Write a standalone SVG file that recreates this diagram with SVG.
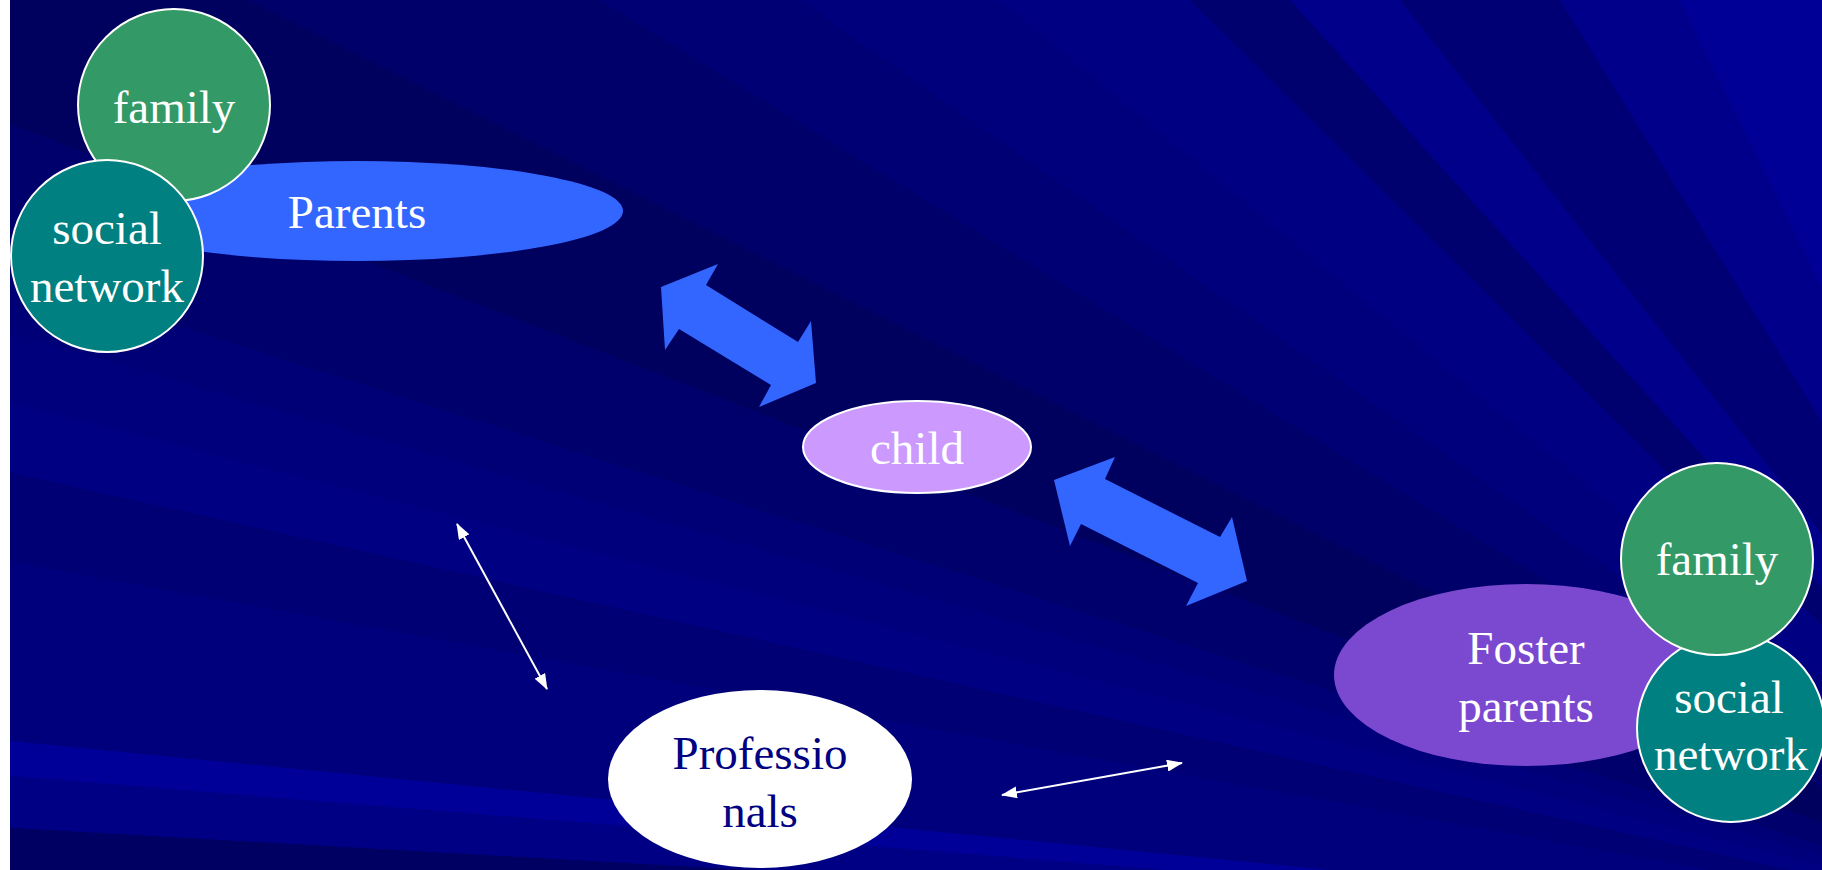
<svg xmlns="http://www.w3.org/2000/svg" width="1822" height="870" viewBox="0 0 1822 870">
<style>
.lbl{font-family:"Liberation Serif","Times New Roman",serif;font-size:47px;fill:#ffffff;text-anchor:middle}
.dark{fill:#000080}
.ring{stroke:#ffffff;stroke-width:2}
.thin{stroke:#ffffff;stroke-width:2;fill:none}
.fat{fill:#3366ff}
</style>
<defs>
<marker id="ah" viewBox="0 0 16 12" refX="15" refY="6" markerWidth="16" markerHeight="12" markerUnits="userSpaceOnUse" orient="auto-start-reverse">
<path d="M0,0 L16,6 L0,12 Z" fill="#ffffff"/>
</marker>
</defs>
<g id="background">
<rect x="0" y="0" width="1822" height="870" fill="#00008c"/>
<polygon points="2150,950 0,870 0,827" fill="#000062"/>
<polygon points="2150,950 0,827 0,775" fill="#000084"/>
<polygon points="2150,950 0,775 0,740" fill="#000098"/>
<polygon points="2150,950 0,740 0,560" fill="#00007c"/>
<polygon points="2150,950 0,560 0,470" fill="#000074"/>
<polygon points="2150,950 0,470 0,400" fill="#000082"/>
<polygon points="2150,950 0,400 0,330" fill="#00007c"/>
<polygon points="2150,950 0,330 0,270" fill="#000076"/>
<polygon points="2150,950 0,270 0,120" fill="#00006c"/>
<polygon points="2150,950 0,120 0,0 250,0" fill="#00005e"/>
<polygon points="2150,950 250,0 600,0" fill="#00006a"/>
<polygon points="2150,950 600,0 800,0" fill="#000074"/>
<polygon points="2150,950 800,0 1000,0" fill="#00007c"/>
<polygon points="2150,950 1000,0 1190,0" fill="#000082"/>
<polygon points="2150,950 1190,0 1290,0" fill="#00006e"/>
<polygon points="2150,950 1290,0 1400,0" fill="#00008a"/>
<polygon points="2150,950 1400,0 1560,0" fill="#000074"/>
<polygon points="2150,950 1560,0 1680,0" fill="#00008a"/>
<polygon points="2150,950 1680,0 1822,0 1822,870" fill="#000096"/>
<rect x="0" y="0" width="10" height="870" fill="#ffffff"/>
</g>
<g id="parents">
<ellipse cx="357" cy="211" rx="266" ry="50" fill="#3366ff"/>
<text class="lbl" x="357" y="228">Parents</text>
</g>
<g id="family-left">
<circle class="ring" cx="174" cy="105" r="96" fill="#339966"/>
<text class="lbl" x="174" y="123">family</text>
</g>
<g id="social-left">
<circle class="ring" cx="107" cy="256" r="96" fill="#008080"/>
<text class="lbl" x="107" y="244">social</text>
<text class="lbl" x="107" y="302">network</text>
</g>
<g id="child">
<ellipse class="ring" cx="917" cy="447" rx="114" ry="46" fill="#cc99ff"/>
<text class="lbl" x="917" y="464">child</text>
</g>
<g id="foster">
<ellipse cx="1526" cy="675" rx="192" ry="91" fill="#7b49d0"/>
<text class="lbl" x="1526" y="664">Foster</text>
<text class="lbl" x="1526" y="722">parents</text>
</g>
<g id="social-right">
<circle class="ring" cx="1731" cy="728" r="94" fill="#008080"/>
<text class="lbl" x="1729" y="713">social</text>
<text class="lbl" x="1731" y="770">network</text>
</g>
<g id="family-right">
<circle class="ring" cx="1717" cy="559" r="96" fill="#339966"/>
<text class="lbl" x="1717" y="575">family</text>
</g>
<g id="professionals">
<ellipse cx="760" cy="779" rx="152" ry="89" fill="#ffffff"/>
<text class="lbl dark" x="760" y="769">Professio</text>
<text class="lbl dark" x="760" y="827">nals</text>
</g>
<g id="connectors">
<polygon class="fat" points="661,287 718,264 706,285 798,342 811,321 816,383 759,407 771,385 679,329 665,350"/>
<polygon class="fat" points="1054,480 1115,457 1105,479 1220,537 1232,517 1247,581 1186,606 1198,583 1081,524 1070,546"/>
<line class="thin" x1="457" y1="524" x2="547" y2="689" marker-start="url(#ah)" marker-end="url(#ah)"/>
<line class="thin" x1="1002" y1="795" x2="1182" y2="763" marker-start="url(#ah)" marker-end="url(#ah)"/>
</g>
</svg>
